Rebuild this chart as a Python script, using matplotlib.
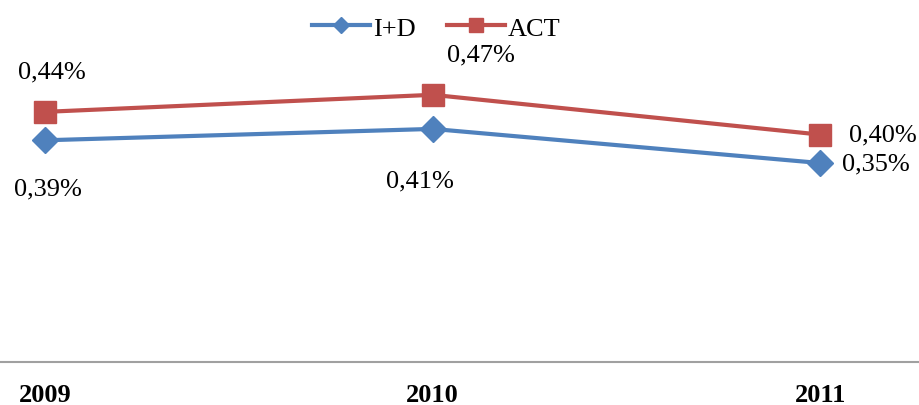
import matplotlib.pyplot as plt

plt.rcParams['font.family'] = ['Liberation Serif', 'DejaVu Serif']

# data
years = ["2009", "2010", "2011"]
id_vals = [0.39, 0.41, 0.35]
act_vals = [0.44, 0.47, 0.40]
id_labels = ["0,39%", "0,41%", "0,35%"]
act_labels = ["0,44%", "0,47%", "0,40%"]

blue = "#4F81BD"
red = "#C0504D"

fig = plt.figure(figsize=(9.19, 4.06), dpi=100)
ax = fig.add_axes([0, 0.106, 1, 0.847])

x = range(len(years))
ax.plot(x, id_vals, color=blue, lw=3, marker="D", ms=13, label="I+D")
ax.plot(x, act_vals, color=red, lw=3, marker="s", ms=15.5, label="ACT")

ax.set_xlim(-0.116, 2.255)
ax.set_ylim(0, 0.605)

# value labels (offsets in points)
id_off = [(2, -35), (-9, -37), (40, 0)]
act_off = [(5, 29), (35, 29), (45, 0)]
for i in x:
    ax.annotate(id_labels[i], (i, id_vals[i]), xytext=id_off[i], textcoords="offset points",
                ha="center", va="center", fontsize=19)
    ax.annotate(act_labels[i], (i, act_vals[i]), xytext=act_off[i], textcoords="offset points",
                ha="center", va="center", fontsize=19)

ax.set_xticks(list(x))
ax.set_xticklabels(years, fontsize=19, fontweight="bold")
ax.tick_params(axis="x", length=0, pad=15)
ax.set_yticks([])
for s in ["top", "left", "right"]:
    ax.spines[s].set_visible(False)
ax.spines["bottom"].set_color("#A0A0A0")
ax.spines["bottom"].set_linewidth(1.5)

ax.legend(loc="upper center", bbox_to_anchor=(0.475, 1.075), ncol=2, frameon=False,
          fontsize=19, handlelength=2.2, handletextpad=0.1, columnspacing=1.2,
          markerscale=0.65)

fig.savefig("out.png", dpi=100)
